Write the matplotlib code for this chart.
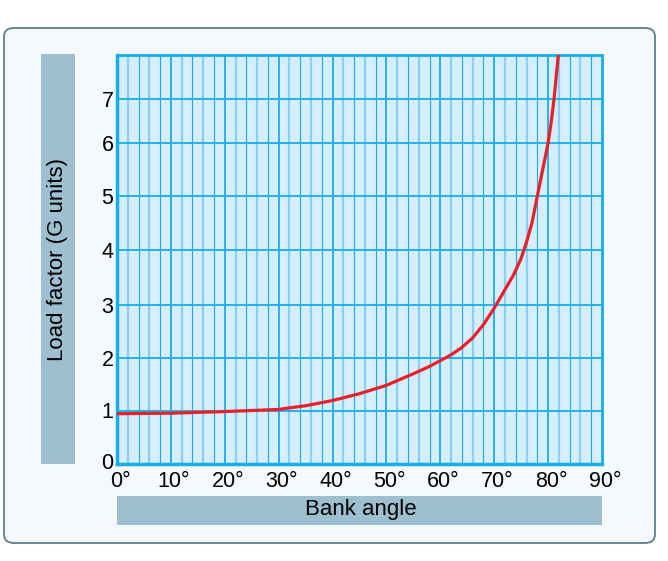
import numpy as np
import matplotlib
matplotlib.use('Agg')
import matplotlib.pyplot as plt
from matplotlib.patches import FancyBboxPatch, Rectangle
from matplotlib.scale import FuncScale
from matplotlib.transforms import ScaledTranslation

plt.rcParams['font.family'] = ['Liberation Sans', 'DejaVu Sans']

# load factor curve
bank_angle = [0, 10, 20, 25, 30, 32, 35, 40, 45, 50, 55, 58, 60, 62, 64, 66, 68,
              70, 72, 73.6, 75, 76, 77, 78, 79, 80, 80.6, 81.1, 81.9]
load_factor = [0.94, 0.95, 0.98, 1.0, 1.02, 1.05, 1.09, 1.19, 1.32, 1.48, 1.70, 1.84, 1.95, 2.06, 2.20, 2.38, 2.63,
               2.94, 3.28, 3.55, 3.85, 4.15, 4.5, 5.0, 5.5, 6.0, 6.5, 7.0, 8.0]

x_ticks = [0, 10, 20, 30, 40, 50, 60, 70, 80, 90]
x_labels = ['0°', '10°', '20°', '30°', '40°', '50°', '60°', '70°', '80°', '90°']
y_ticks = [0, 1, 2, 3, 4, 5, 6, 7]

# the printed scale is squeezed above 6
y_vals = [0, 1, 2, 3, 4, 5, 6, 7, 8]
y_pos = [0, 53.5, 106, 159, 214, 268, 321, 365, 409]

W, H = 668, 561
grid_dark = '#16aee9'
grid_light = '#86d2f3'

fig = plt.figure(figsize=(W / 100, H / 100), dpi=100)
fig.patch.set_facecolor('white')

# panel behind everything
panel = FancyBboxPatch((4 / W, (H - 543) / H), 651 / W, 515 / H,
                       boxstyle='round,pad=0,rounding_size=0.015',
                       transform=fig.transFigure, facecolor='#f5f9fc',
                       edgecolor='#5e7d8c', linewidth=1.3, zorder=-2)
fig.patches.append(panel)

# label bars
fig.patches.append(Rectangle((41 / W, (H - 464) / H), 34 / W, 410 / H,
                             transform=fig.transFigure, facecolor='#9dbfd0',
                             edgecolor='none', zorder=-1))
fig.patches.append(Rectangle((117 / W, (H - 525) / H), 485 / W, 29 / H,
                             transform=fig.transFigure, facecolor='#9dbfd0',
                             edgecolor='none', zorder=-1))
fig.text(58 / W, 1 - 260 / H, 'Load factor (G units)', rotation=90,
         ha='center', va='center', fontsize=16)
fig.text(361 / W, 1 - 510 / H, 'Bank angle', ha='center', va='center', fontsize=16)

ax = fig.add_axes([117 / W, (H - 464) / H, 485 / W, 409 / H])
ax.set_facecolor('#d5eefa')
ax.set_yscale(FuncScale(ax.yaxis, (lambda v: np.interp(v, y_vals, y_pos),
                                   lambda p: np.interp(p, y_pos, y_vals))))
ax.set_xlim(0, 90)
ax.set_ylim(0, 8)

# grid: light at 2/6, darker at 4/8, strong at every 10
for xv in np.arange(0, 90, 10):
    for off, col, lw in [(2, grid_light, 1.6), (4, grid_dark, 0.8),
                         (6, grid_light, 1.6), (8, grid_dark, 0.8)]:
        ax.axvline(xv + off, color=col, linewidth=lw, zorder=1)
for xv in x_ticks[1:-1]:
    ax.axvline(xv, color=grid_dark, linewidth=1.3, zorder=1)
for yv in y_ticks[1:]:
    ax.axhline(yv, color=grid_dark, linewidth=1.3, zorder=1)

ax.plot(bank_angle, load_factor, color='#e8202a', linewidth=2.3,
        solid_capstyle='butt', solid_joinstyle='round', zorder=3)

for s in ax.spines.values():
    s.set_color(grid_dark)
    s.set_linewidth(2)
ax.spines['left'].set_linewidth(2.5)
ax.spines['bottom'].set_linewidth(2.5)

ax.set_xticks(x_ticks)
ax.set_xticklabels(x_labels)
ax.set_yticks(y_ticks)
ax.tick_params(length=0, labelsize=15.5)
ax.tick_params(axis='x', pad=5)
ax.tick_params(axis='y', pad=2.5)
shift = ScaledTranslation(3 / 100, 0, fig.dpi_scale_trans)
for lab in ax.get_xticklabels():
    lab.set_transform(lab.get_transform() + shift)
# the zero on the y axis sits a little higher
lab0 = ax.get_yticklabels()[0]
lab0.set_transform(lab0.get_transform() + ScaledTranslation(0, 3 / 100, fig.dpi_scale_trans))

fig.savefig('out.png', dpi=100)
